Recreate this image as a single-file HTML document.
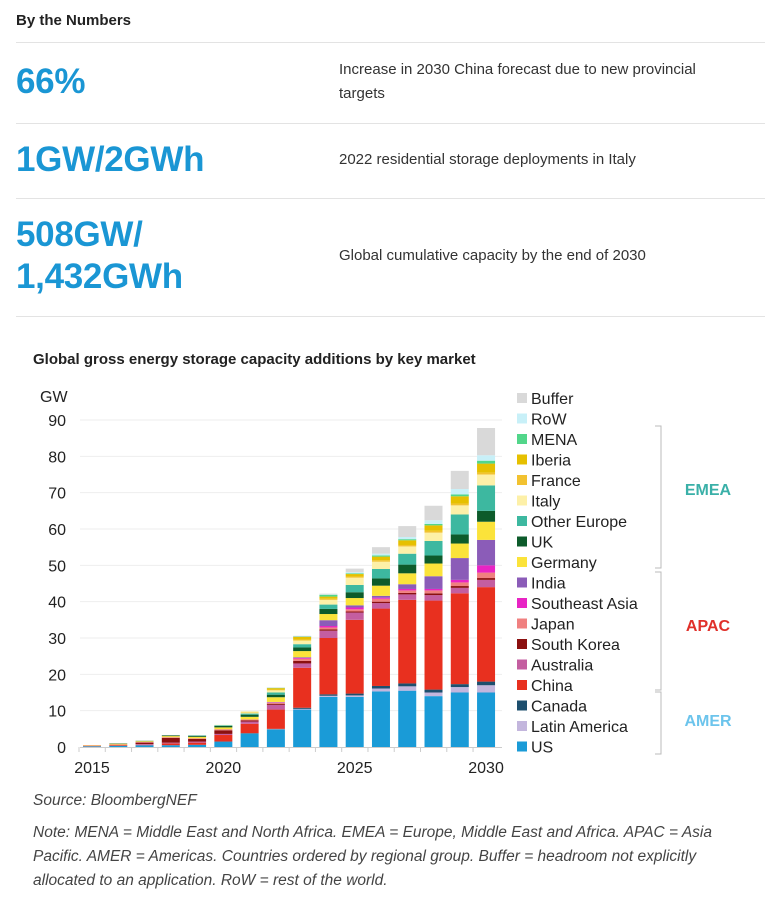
<!DOCTYPE html>
<html><head><meta charset="utf-8"><style>
body{margin:0;background:#fff;font-family:"Liberation Sans",Arial,sans-serif;width:772px;height:911px;overflow:hidden;position:relative;color:#222}
.abs{position:absolute}
.hr{position:absolute;left:16px;width:749px;height:1px;background:#e3e3e3}
.big{position:absolute;left:16px;color:#1a96d4;font-weight:bold;font-size:35px;letter-spacing:-0.3px;line-height:42px}
.desc{position:absolute;left:339px;font-size:15px;color:#333;line-height:24px}
.note{position:absolute;left:33px;font-style:italic;font-size:15.5px;color:#444;line-height:24px}
</style></head><body>
<div class="abs" style="left:16px;top:12px;font-weight:bold;font-size:15px">By the Numbers</div>
<div class="hr" style="top:42px"></div>
<div class="big" style="top:61px">66%</div>
<div class="desc" style="top:58px;width:395px">Increase in 2030 China forecast due to new provincial targets</div>
<div class="hr" style="top:123px"></div>
<div class="big" style="top:139px">1GW/2GWh</div>
<div class="desc" style="top:148px">2022 residential storage deployments in Italy</div>
<div class="hr" style="top:198px"></div>
<div class="big" style="top:214px">508GW/<br>1,432GWh</div>
<div class="desc" style="top:244px">Global cumulative capacity by the end of 2030</div>
<div class="hr" style="top:316px"></div>
<div class="abs" style="left:33px;top:351px;font-weight:bold;font-size:15px">Global gross energy storage capacity additions by key market</div>
<svg class="abs" style="left:0;top:370px" width="772" height="415" viewBox="0 370 772 415" id="chart"></svg>
<div class="note" style="top:789px">Source: BloombergNEF</div>
<div class="note" style="top:821px;width:705px">Note: MENA = Middle East and North Africa. EMEA = Europe, Middle East and Africa. APAC = Asia Pacific. AMER = Americas. Countries ordered by regional group. Buffer = headroom not explicitly allocated to an application. RoW = rest of the world.</div>
<script>
const years=[2015,2016,2017,2018,2019,2020,2021,2022,2023,2024,2025,2026,2027,2028,2029,2030];
const seriesNames=["US","Latin America","Canada","China","Australia","South Korea","Japan","Southeast Asia","India","Germany","UK","Other Europe","Italy","France","Iberia","MENA","RoW","Buffer"];
const seriesColors=["#1a9bd7","#c3b6dd","#1d4f6e","#e8301f","#c45ea0","#8b1010","#f08080","#e824c4","#8b5cb8","#fbe33a","#0d5b2b","#3db8a0","#fdf0a8","#f2c230","#e6c000","#52d68a","#c8f0f8","#d9d9d9"];
const US=[0.2,0.3,0.5,0.5,0.6,1.5,3.7,4.8,10.3,13.8,13.8,15.3,15.5,14,15,15];
const LatAm=[0,0,0,0,0,0,0,0.1,0.2,0.3,0.4,0.8,1.2,1,1.5,2];
const Canada=[0,0,0,0,0,0,0.1,0.1,0.3,0.4,0.5,0.7,0.8,0.8,0.8,1];
const China=[0.05,0.1,0.1,0.5,0.6,1.8,2.6,5.3,11,15.5,20.3,21.3,23,24.5,25,26];
const Australia=[0,0,0.2,0.2,0.3,0.3,0.6,1.3,1.2,2,2,1.5,1.5,1.5,1.5,2];
const SouthKorea=[0,0.1,0.4,1.3,0.7,1,0.3,0.3,0.7,0.4,0.3,0.4,0.4,0.5,0.5,0.5];
const Japan=[0.2,0.2,0.2,0.2,0.2,0.3,0.3,0.3,0.6,0.5,0.6,0.8,0.7,0.8,1,1.5];
const SEAsia=[0,0,0,0,0,0,0,0.1,0.2,0.4,0.5,0.3,0.4,0.4,0.7,2];
const India=[0,0,0,0,0,0,0,0.1,0.2,1.6,0.6,0.5,1.3,3.5,6,7];
const Germany=[0.1,0.2,0.2,0.3,0.4,0.5,0.7,1.3,1.7,1.7,2,2.8,3,3.5,4,5];
const UK=[0,0.1,0.1,0.2,0.3,0.4,0.6,0.7,1,1.4,1.6,2,2.4,2.2,2.5,3];
const OtherEurope=[0,0,0,0,0.1,0.2,0.3,0.6,0.9,1.2,2,2.6,3,4,5.5,7];
const Italy=[0,0,0,0,0,0.1,0.3,0.6,1,1.3,2,2,2,2.3,2.5,3];
const France=[0,0,0,0,0,0,0.1,0.2,0.3,0.3,0.3,0.4,0.4,0.5,0.5,0.5];
const Iberia=[0,0,0,0,0,0,0.1,0.4,0.7,0.6,0.7,1,1.3,1.5,2,2.5];
const MENA=[0,0,0,0,0,0,0,0.1,0.1,0.5,0.2,0.3,0.3,0.4,0.5,0.8];
const RoW=[0,0,0,0,0,0,0,0,0,0.1,0.3,0.5,0.6,1,1.5,1.5];
const Buffer=[0,0,0,0,0,0,0,0.1,0.2,0.2,1,1.8,3,4,5,7.5];
const yTicks=[0,10,20,30,40,50,60,70,80,90];
const xTickLabels=[2015,2020,2025,2030];
const seriesData=[US,LatAm,Canada,China,Australia,SouthKorea,Japan,SEAsia,India,Germany,UK,OtherEurope,Italy,France,Iberia,MENA,RoW,Buffer];

const svg=document.getElementById('chart');const NS='http://www.w3.org/2000/svg';
function yS(v){return 747-v*(327/90);}
function xS(yr){return 92+(yr-2015)*26.27;}
function mk(t,a,txt){const e=document.createElementNS(NS,t);for(const k in a)e.setAttribute(k,a[k]);if(txt!=null)e.textContent=txt;svg.appendChild(e);return e;}
yTicks.forEach(v=>{
 if(v>0){const g=mk('line',{x1:80,x2:502,y1:yS(v),y2:yS(v),stroke:'#eeeeee','stroke-width':1});
 
 }
 const t=mk('text',{x:66,y:yS(v)+6,'text-anchor':'end','font-size':16,fill:'#222','font-family':'Liberation Sans, Arial, sans-serif'},v);
 
 
});
const gw=mk('text',{x:40,y:402,'font-size':16,fill:'#222','font-family':'Liberation Sans, Arial, sans-serif'},'GW');


years.forEach((yr,i)=>{
 let base=0;
 seriesData.forEach((s,j)=>{
  const v=s[i];if(v<=0)return;
  const r=mk('rect',{x:xS(yr)-9,y:yS(base+v),width:18,height:yS(base)-yS(base+v),fill:seriesColors[j]});
  
  
  base+=v;
 });
});
const ax=mk('line',{x1:80,x2:502,y1:747.5,y2:747.5,stroke:'#cccccc','stroke-width':1});


years.forEach(yr=>{const tk=mk('line',{x1:xS(yr)-13,x2:xS(yr)-13,y1:747,y2:752,stroke:'#cccccc'});
 
 });
xTickLabels.forEach(yr=>{const t=mk('text',{x:xS(yr),y:773,'text-anchor':'middle','font-size':16,fill:'#222','font-family':'Liberation Sans, Arial, sans-serif'},yr);
 
 });
for(let k=seriesNames.length-1,row=0;k>=0;k--,row++){
 const y=398+row*20.5;
 const r=mk('rect',{x:517,y:y-5,width:10,height:10,fill:seriesColors[k]});
 
 
 const t=mk('text',{x:531,y:y+6,'font-size':16,fill:'#222','font-family':'Liberation Sans, Arial, sans-serif'},seriesNames[k]);
 
 
}
[['EMEA',426,568,'#3ab0a8',489],['APAC',572,690,'#e0302a',625],['AMER',692,754,'#6cc4ec',720]].forEach(g=>{
 const p=mk('path',{d:`M655 ${g[1]} H661 V${g[2]} H655`,fill:'none',stroke:'#bbbbbb','stroke-width':1});
 
 
 const t=mk('text',{x:708,y:g[4]+6,'text-anchor':'middle','font-size':16,'font-weight':'bold',fill:g[3],'font-family':'Liberation Sans, Arial, sans-serif'},g[0]);
 
 
});
</script>
</body></html>
